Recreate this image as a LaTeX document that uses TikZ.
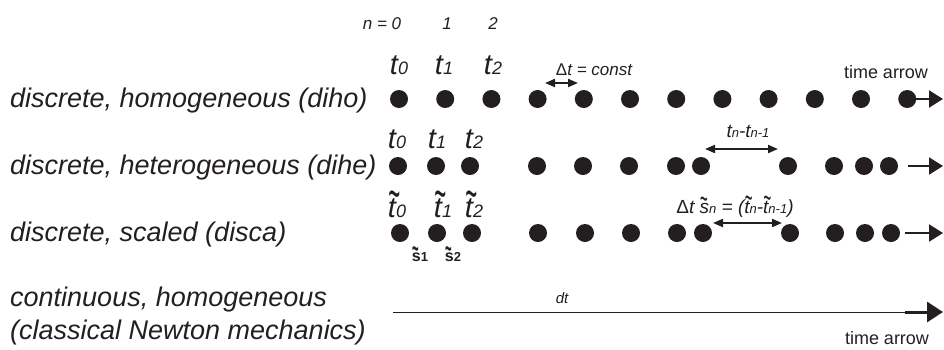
\documentclass[tikz,border=0pt]{standalone}
\usepackage{fontspec}
\setmainfont{Liberation Sans}
\usetikzlibrary{arrows.meta}
\definecolor{inkblack}{RGB}{35,31,32}
\newcommand{\sub}[1]{{\fontsize{18}{18}\selectfont #1}}
\newcommand{\subsm}[1]{{\fontsize{13}{13}\selectfont #1}}
\newcommand{\tld}[2][0.2em]{\leavevmode\rlap{\kern0.01em\raisebox{#1}{\scalebox{0.7}[1.8]{\textasciitilde}}}#2}

\begin{document}
\begin{tikzpicture}[x=1pt, y=-1pt, inkblack,
    dot/.style={circle, fill=inkblack, minimum size=18pt, inner sep=0pt},
    rowlabel/.style={anchor=base west, inner sep=0pt, font=\fontsize{27}{27}\selectfont\itshape},
    tlabel/.style={anchor=base, inner sep=0pt, font=\fontsize{29}{29}\selectfont\itshape},
    note/.style={anchor=base, inner sep=0pt, font=\fontsize{17}{17}\selectfont\itshape},
    gap/.style={line width=2pt, {Triangle[length=10pt,width=8pt]}-{Triangle[length=10pt,width=8pt]}},
    timearrow/.style={line width=2pt, -{Triangle[length=14pt,width=17pt]}}]
  \useasboundingbox (0,0) rectangle (944,349);
  % Row labels
  \node[rowlabel] (diho) at (10,107) {discrete, homogeneous (diho)};
  \node[rowlabel] (dihe) at (10,174) {discrete, heterogeneous (dihe)};
  \node[rowlabel] (disca) at (10,241) {discrete, scaled (disca)};
  \node[rowlabel] (cont) at (10,306) {continuous, homogeneous};
  \node[rowlabel] (newton) at (10,339) {(classical Newton mechanics)};
  % Index n
  \node[note] (n0) at (382,29) {n = 0};
  \node[note] (n1) at (447,29) {1};
  \node[note] (n2) at (493,29) {2};
  % Homogeneous row
  \foreach \i in {0,...,11}
    \node[dot] (a\i) at (399+46.2*\i,99) {};
  \node[tlabel] (ta0) at (399,74) {t\sub{0}};
  \node[tlabel] (ta1) at (444,74) {t\sub{1}};
  \node[tlabel] (ta2) at (493,74) {t\sub{2}};
  \coordinate (ga) at (545,83);
  \coordinate (gb) at (578,83);
  \draw[gap] (ga) -- (gb);
  \node[note] (const) at (594,75) {{\upshape Δ}t = const};
  \coordinate (aend) at (943,99);
  \draw[timearrow] (a11) -- (aend);
  \node[note, font=\fontsize{18}{18}\selectfont] (arrA) at (886,78) {time arrow};
  % Heterogeneous row
  \foreach \x [count=\i from 0] in {398,436,470,537,583,629,676,701,788,834,864,889}
    \node[dot] (b\i) at (\x,166) {};
  \node[tlabel] (tb0) at (397,148) {t\sub{0}};
  \node[tlabel] (tb1) at (437,148) {t\sub{1}};
  \node[tlabel] (tb2) at (474,148) {t\sub{2}};
  \coordinate (gc) at (705,149);
  \coordinate (gd) at (778,149);
  \draw[gap] (gc) -- (gd);
  \node[note, font=\fontsize{19}{19}\selectfont\itshape] (diff) at (748,137)
    {t\subsm{n}-t\subsm{n-1}};
  \coordinate (bstart) at (908,166);
  \coordinate (bend) at (943,166);
  \draw[timearrow] (bstart) -- (bend);
  % Scaled row
  \foreach \x [count=\i from 0] in {400,437,472,538,585,631,677,703,790,835,865,891}
    \node[dot] (c\i) at (\x,233) {};
  \node[tlabel] (tc0) at (397,217) {\tld{t}\sub{0}};
  \node[tlabel] (tc1) at (443,217) {\tld{t}\sub{1}};
  \node[tlabel] (tc2) at (474,217) {\tld{t}\sub{2}};
  \node[note, font=\fontsize{16}{16}\selectfont\bfseries] (s1) at (420,261) {\tld[0.14em]{s}\subsm{1}};
  \node[note, font=\fontsize{16}{16}\selectfont\bfseries] (s2) at (453,261) {\tld[0.14em]{s}\subsm{2}};
  \coordinate (ge) at (713,223);
  \coordinate (gf) at (782,223);
  \draw[gap] (ge) -- (gf);
  \node[note, font=\fontsize{19}{19}\selectfont\itshape] (scaled) at (735,213)
    {{\upshape Δ}t \tld[0.12em]{s}\subsm{n} = (\tld{t}\subsm{n}-\tld{t}\subsm{n-1})};
  \coordinate (cstart) at (905,233);
  \coordinate (cend) at (943,233);
  \draw[timearrow] (cstart) -- (cend);
  % Continuous row
  \coordinate (dstart) at (393,312);
  \coordinate (dmid) at (905,312);
  \coordinate (dend) at (943,312);
  \draw[line width=0.8pt] (dstart) -- (dmid);
  \draw[line width=3pt, -{Triangle[length=16pt,width=20pt]}] (dmid) -- (dend);
  \node[note, font=\fontsize{15}{15}\selectfont\itshape] (dt) at (562,303) {dt};
  \node[note, font=\fontsize{18}{18}\selectfont] (arrB) at (887,344) {time arrow};
\end{tikzpicture}
\end{document}
